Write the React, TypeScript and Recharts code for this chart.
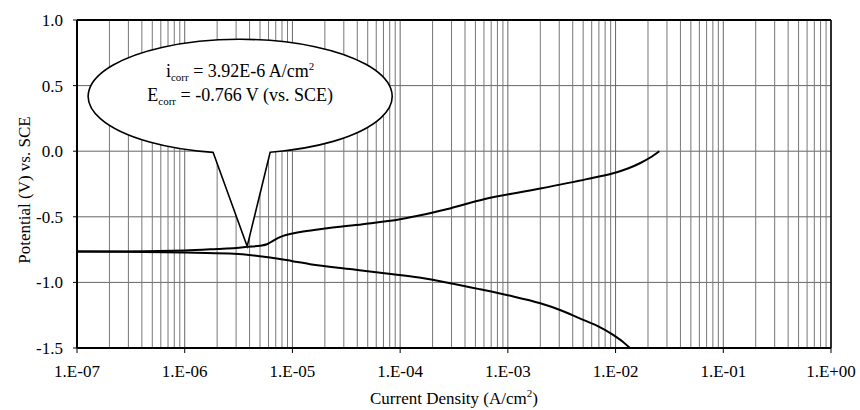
import React from 'react';
import {
  LineChart,
  Line,
  XAxis,
  YAxis,
  CartesianGrid,
  ReferenceLine,
  ReferenceDot
} from 'recharts';

// anodic branch, current density (A/cm2) and potential (V vs SCE)
const anodicCurrent = [
  1e-7, 3e-7, 1e-6, 2e-6, 3e-6, 3.8e-6, 5e-6, 5.8e-6, 6.6e-6, 7.4e-6, 8.2e-6, 1e-5,
  1.26e-5, 2.1e-5, 4.5e-5, 1e-4, 1.5e-4, 2.7e-4, 6e-4, 2e-3, 5.4e-3, 9.5e-3, 1.3e-2,
  1.7e-2, 2.1e-2, 2.55e-2
];
const anodicPotential = [
  -0.765, -0.764, -0.757, -0.745, -0.737, -0.729, -0.72, -0.709, -0.683, -0.66, -0.645,
  -0.628, -0.612, -0.587, -0.556, -0.518, -0.49, -0.442, -0.366, -0.285, -0.213, -0.168,
  -0.132, -0.09, -0.048, 0.0
];

// cathodic branch
const cathodicCurrent = [
  1e-7, 3e-7, 1e-6, 2.6e-6, 6.2e-6, 1e-5, 1.46e-5, 3.6e-5, 7.5e-5, 1.5e-4, 3.1e-4,
  5.5e-4, 1e-3, 2e-3, 3.05e-3, 4.7e-3, 6.7e-3, 9.5e-3, 1.16e-2, 1.36e-2
];
const cathodicPotential = [
  -0.765, -0.767, -0.772, -0.78, -0.81, -0.838, -0.861, -0.9, -0.932, -0.963, -1.01,
  -1.052, -1.098, -1.159, -1.21, -1.276, -1.33, -1.4, -1.45, -1.5
];

const xTicks = [1e-7, 1e-6, 1e-5, 1e-4, 1e-3, 1e-2, 1e-1, 1];
const yTicks = [-1.5, -1.0, -0.5, 0.0, 0.5, 1.0];
const minorSteps = [2, 3, 4, 5, 6, 7, 8, 9];

// tip of the callout (points at the corrosion point)
const calloutAt = { i: 3.8e-6, e: -0.725 };

const FONT = '"Liberation Serif", "DejaVu Serif", "Times New Roman", serif';
const serif = { fontFamily: FONT };

const anodic = anodicCurrent.map((i, k) => ({ i, e: anodicPotential[k] }));
const cathodic = cathodicCurrent.map((i, k) => ({ i, e: cathodicPotential[k] }));

const minorTicks: number[] = [];
xTicks.slice(0, -1).forEach((d) => minorSteps.forEach((m) => minorTicks.push(d * m)));

const fmtX = (v: number) => {
  const p = Math.round(Math.log10(v));
  const s = p < 0 ? '-' : '+';
  return `1.E${s}${String(Math.abs(p)).padStart(2, '0')}`;
};

const Callout = (props: any) => {
  const { cx, cy } = props;
  if (cx == null || cy == null) return null;
  const ex = cx - 7;
  const ey = cy - 150;
  const rx = 152;
  const ry = 57;
  const lx = cx - 34;
  const rX = cx + 23;
  const jy = ey + ry * Math.sqrt(1 - ((lx - ex) / rx) ** 2);
  const jy2 = ey + ry * Math.sqrt(1 - ((rX - ex) / rx) ** 2);
  const d = `M ${lx} ${jy} A ${rx} ${ry} 0 1 1 ${rX} ${jy2} L ${cx} ${cy} Z`;
  return (
    <g style={serif}>
      <path d={d} fill="#fff" stroke="#000" strokeWidth={1.6} strokeLinejoin="miter" />
      <text x={ex} y={ey - 19} textAnchor="middle" fontSize={18} fill="#000" style={serif}>
        i<tspan fontSize={11} dy={4}>corr</tspan>
        <tspan dy={-4}> = 3.92E-6 A/cm</tspan>
        <tspan fontSize={11} dy={-7}>2</tspan>
      </text>
      <text x={ex} y={ey + 5} textAnchor="middle" fontSize={18} fill="#000" style={serif}>
        E<tspan fontSize={11} dy={4}>corr</tspan>
        <tspan dy={-4}> = -0.766 V (vs. SCE)</tspan>
      </text>
    </g>
  );
};

const XTitle = () => (
  <text x={454} y={404} textAnchor="middle" fontSize={17} fill="#000" style={serif}>
    Current Density (A/cm<tspan fontSize={11} dy={-7}>2</tspan>
    <tspan dy={7}>)</tspan>
  </text>
);

const YTitle = () => (
  <text
    transform="translate(30,190) rotate(-90)"
    textAnchor="middle"
    fontSize={17}
    fill="#000"
    style={serif}
  >
    Potential (V) vs. SCE
  </text>
);

export default function App() {
  return (
    <div
      style={{
        position: 'absolute',
        left: 0,
        top: 0,
        width: 860,
        height: 410,
        background: '#fff',
        fontFamily: FONT
      }}
    >
      <LineChart
        width={860}
        height={410}
        margin={{ top: 20, right: 29, bottom: 0, left: 0 }}
        style={serif}
      >
        <CartesianGrid stroke="#666" strokeWidth={1} />
        {minorTicks.map((v) => (
          <ReferenceLine key={v} x={v} stroke="#777" strokeWidth={1} ifOverflow="hidden" />
        ))}
        <XAxis
          dataKey="i"
          type="number"
          scale="log"
          domain={[1e-7, 1]}
          ticks={xTicks}
          tickFormatter={fmtX}
          allowDataOverflow
          height={62}
          tickSize={5}
          tickMargin={12}
          tick={{ fontFamily: FONT, fontSize: 17, fill: '#000', style: serif }}
          axisLine={{ stroke: '#000', strokeWidth: 2 }}
          tickLine={{ stroke: '#000' }}
          label={{ content: XTitle }}
        />
        <YAxis
          dataKey="e"
          type="number"
          domain={[-1.5, 1]}
          ticks={yTicks}
          tickFormatter={(v: number) => v.toFixed(1)}
          allowDataOverflow
          width={77}
          tickSize={4}
          tickMargin={10}
          tick={{ fontFamily: FONT, fontSize: 17, fill: '#000', style: serif }}
          axisLine={{ stroke: '#000', strokeWidth: 2 }}
          tickLine={{ stroke: '#000' }}
          label={{ content: YTitle }}
        />
        <ReferenceLine y={1} stroke="#000" strokeWidth={2} />
        <ReferenceLine x={1} stroke="#000" strokeWidth={1.5} />
        <Line
          data={anodic}
          dataKey="e"
          type="monotone"
          stroke="#000"
          strokeWidth={2}
          dot={false}
          isAnimationActive={false}
        />
        <Line
          data={cathodic}
          dataKey="e"
          type="monotone"
          stroke="#000"
          strokeWidth={2}
          dot={false}
          isAnimationActive={false}
        />
        <ReferenceDot x={calloutAt.i} y={calloutAt.e} r={0} shape={Callout} />
      </LineChart>
    </div>
  );
}
